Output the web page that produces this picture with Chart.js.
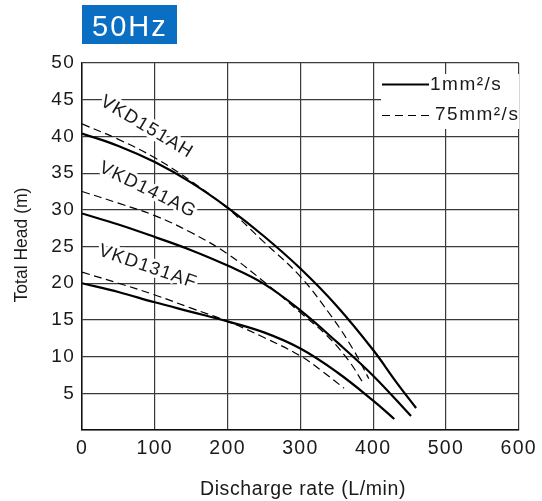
<!DOCTYPE html>
<html>
<head>
<meta charset="utf-8">
<script src="https://cdn.jsdelivr.net/npm/chart.js@4.4.1/dist/chart.umd.min.js"></script>
<style>
html,body{margin:0;padding:0;background:#fff;}
#wrap{position:relative;width:542px;height:501px;}
</style>
</head>
<body>
<div id="wrap"><canvas id="c" width="542" height="501"></canvas></div>
<script>
// ---- data ----
const q151Solid = [0, 50, 100, 150, 200, 250, 300, 350, 400, 432, 459];
const h151Solid = [40.4, 38.7, 36.5, 33.7, 30.3, 26.4, 22.0, 16.9, 10.9, 6.5, 3.0];
const q151Dash  = [0, 50, 100, 150, 200, 250, 300, 344, 373, 394];
const h151Dash  = [41.7, 39.6, 37.1, 33.9, 30.2, 25.6, 20.9, 15.3, 10.9, 7.0];

const q141Solid = [0, 50, 100, 150, 200, 250, 300, 350, 400, 452];
const h141Solid = [29.5, 28.0, 26.3, 24.5, 22.4, 19.9, 16.3, 12.0, 7.4, 1.9];
const q141Dash  = [0, 50, 100, 150, 200, 250, 300, 337, 366, 385];
const h141Dash  = [32.5, 30.9, 29.2, 26.9, 24.0, 20.2, 16.0, 12.8, 9.5, 6.6];

const q131Solid = [0, 50, 100, 150, 200, 250, 300, 350, 400, 429];
const h131Solid = [20.0, 18.8, 17.4, 16.1, 14.8, 13.3, 11.1, 7.9, 4.0, 1.5];
const q131Dash  = [0, 50, 100, 150, 200, 250, 300, 330, 360];
const h131Dash  = [21.5, 20.0, 18.4, 16.6, 14.8, 12.6, 10.1, 8.0, 5.7];

const xTickValues = [0, 100, 200, 300, 400, 500, 600];
const yTickValues = [5, 10, 15, 20, 25, 30, 35, 40, 45, 50];
const legendLabels = ['1mm\u00b2/s', '75mm\u00b2/s'];
const modelNames = ['VKD151AH', 'VKD141AG', 'VKD131AF'];
const titleText = '50Hz';
const xTitle = 'Discharge rate (L/min)';
const yTitle = 'Total Head (m)';

// label anchor (in data units) and angle for model names
const nameQ = [89, 90.4, 90.4];
const nameH = [41.25, 32.7, 22.2];
const nameAngle = [31, 26, 19];

function pts(qs, hs) { return qs.map((q, i) => ({ x: q, y: hs[i] })); }

const FONT = '"Liberation Sans", Arial, sans-serif';
const solidStyle = { borderColor: '#000', borderWidth: 2.2, pointRadius: 0, fill: false, tension: 0.4 };
const dashStyle = { borderColor: '#000', borderWidth: 1.2, borderDash: [8, 4.5], pointRadius: 0, fill: false, tension: 0.4 };

const datasets = [
  Object.assign({ label: modelNames[0] + ' ' + legendLabels[0], data: pts(q151Solid, h151Solid) }, solidStyle),
  Object.assign({ label: modelNames[0] + ' ' + legendLabels[1], data: pts(q151Dash, h151Dash) }, dashStyle),
  Object.assign({ label: modelNames[1] + ' ' + legendLabels[0], data: pts(q141Solid, h141Solid) }, solidStyle),
  Object.assign({ label: modelNames[1] + ' ' + legendLabels[1], data: pts(q141Dash, h141Dash) }, dashStyle),
  Object.assign({ label: modelNames[2] + ' ' + legendLabels[0], data: pts(q131Solid, h131Solid) }, solidStyle),
  Object.assign({ label: modelNames[2] + ' ' + legendLabels[1], data: pts(q131Dash, h131Dash) }, dashStyle)
];

function setSpacing(ctx, v) { if ('letterSpacing' in ctx) ctx.letterSpacing = v; }

const decor = {
  id: 'decor',
  beforeDraw(chart) {
    setSpacing(chart.ctx, '1.3px');
  },
  afterDatasetsDraw(chart) {
    const ctx = chart.ctx;
    const xs = chart.scales.x, ys = chart.scales.y;
    ctx.save();
    // model names
    ctx.font = '18.5px ' + FONT;
    setSpacing(ctx, '1.3px');
    ctx.textAlign = 'center';
    ctx.textBaseline = 'middle';
    for (let i = 0; i < modelNames.length; i++) {
      const px = xs.getPixelForValue(nameQ[i]);
      const py = ys.getPixelForValue(nameH[i]);
      ctx.save();
      ctx.translate(px, py);
      ctx.rotate(nameAngle[i] * Math.PI / 180);
      ctx.lineWidth = 6;
      ctx.lineJoin = 'round';
      ctx.strokeStyle = '#fff';
      ctx.strokeText(modelNames[i], 0, 0);
      ctx.fillStyle = '#1a1a1a';
      ctx.fillText(modelNames[i], 0, 0);
      ctx.restore();
    }
    // legend
    ctx.fillStyle = '#fff';
    ctx.fillRect(381, 74, 138, 55);
    ctx.strokeStyle = '#000';
    ctx.lineWidth = 2.2;
    ctx.setLineDash([]);
    ctx.beginPath(); ctx.moveTo(382, 84.5); ctx.lineTo(429, 84.5); ctx.stroke();
    ctx.lineWidth = 1.2;
    ctx.setLineDash([8, 5]);
    ctx.beginPath(); ctx.moveTo(382, 115.5); ctx.lineTo(432, 115.5); ctx.stroke();
    ctx.setLineDash([]);
    ctx.fillStyle = '#1a1a1a';
    ctx.font = '19px ' + FONT;
    setSpacing(ctx, '1.5px');
    ctx.textAlign = 'left';
    ctx.textBaseline = 'middle';
    ctx.fillText(legendLabels[0], 430, 85);
    ctx.fillText(legendLabels[1], 435, 115);
    ctx.restore();
  },
  afterDraw(chart) {
    const ctx = chart.ctx;
    ctx.save();
    // title box
    ctx.fillStyle = '#0a6fc2';
    ctx.fillRect(82, 5, 95, 39);
    ctx.fillStyle = '#fff';
    ctx.font = '29px ' + FONT;
    setSpacing(ctx, '2px');
    ctx.textAlign = 'left';
    ctx.textBaseline = 'alphabetic';
    ctx.fillText(titleText, 92, 36);
    // x title
    ctx.fillStyle = '#1a1a1a';
    ctx.font = '19.5px ' + FONT;
    setSpacing(ctx, '0.6px');
    ctx.textAlign = 'center';
    ctx.textBaseline = 'alphabetic';
    ctx.fillText(xTitle, 303, 495);
    // y title
    setSpacing(ctx, '0px');
    ctx.font = '17.5px ' + FONT;
    ctx.translate(27, 245);
    ctx.rotate(-Math.PI / 2);
    ctx.fillText(yTitle, 0, 0);
    ctx.restore();
  }
};

new Chart(document.getElementById('c'), {
  type: 'line',
  data: { datasets: datasets },
  options: {
    responsive: false,
    devicePixelRatio: 1,
    animation: false,
    layout: { padding: { left: 0, top: 63, right: 19, bottom: 0 } },
    plugins: { legend: { display: false }, tooltip: { enabled: false }, title: { display: false } },
    scales: {
      x: {
        type: 'linear', min: 0, max: 600,
        afterFit(s) { s.height = 71; },
        afterBuildTicks(s) { s.ticks = xTickValues.map(v => ({ value: v })); },
        grid: { color: '#3a3a3a', lineWidth: 1.2, drawTicks: false },
        border: { color: '#111', width: 1.5 },
        ticks: { padding: 7, color: '#1a1a1a', font: { family: FONT, size: 19.5 }, maxRotation: 0 }
      },
      y: {
        type: 'linear', min: 0, max: 50,
        afterFit(s) { s.width = 82; },
        afterBuildTicks(s) { s.ticks = [0].concat(yTickValues).map(v => ({ value: v })); },
        grid: { color: '#3a3a3a', lineWidth: 1.2, drawTicks: false },
        border: { color: '#111', width: 1.5 },
        ticks: { padding: 7, color: '#1a1a1a', font: { family: FONT, size: 19 },
          callback: (v) => (v === 0 ? '' : String(v)) }
      }
    }
  },
  plugins: [decor]
});
</script>
</body>
</html>
